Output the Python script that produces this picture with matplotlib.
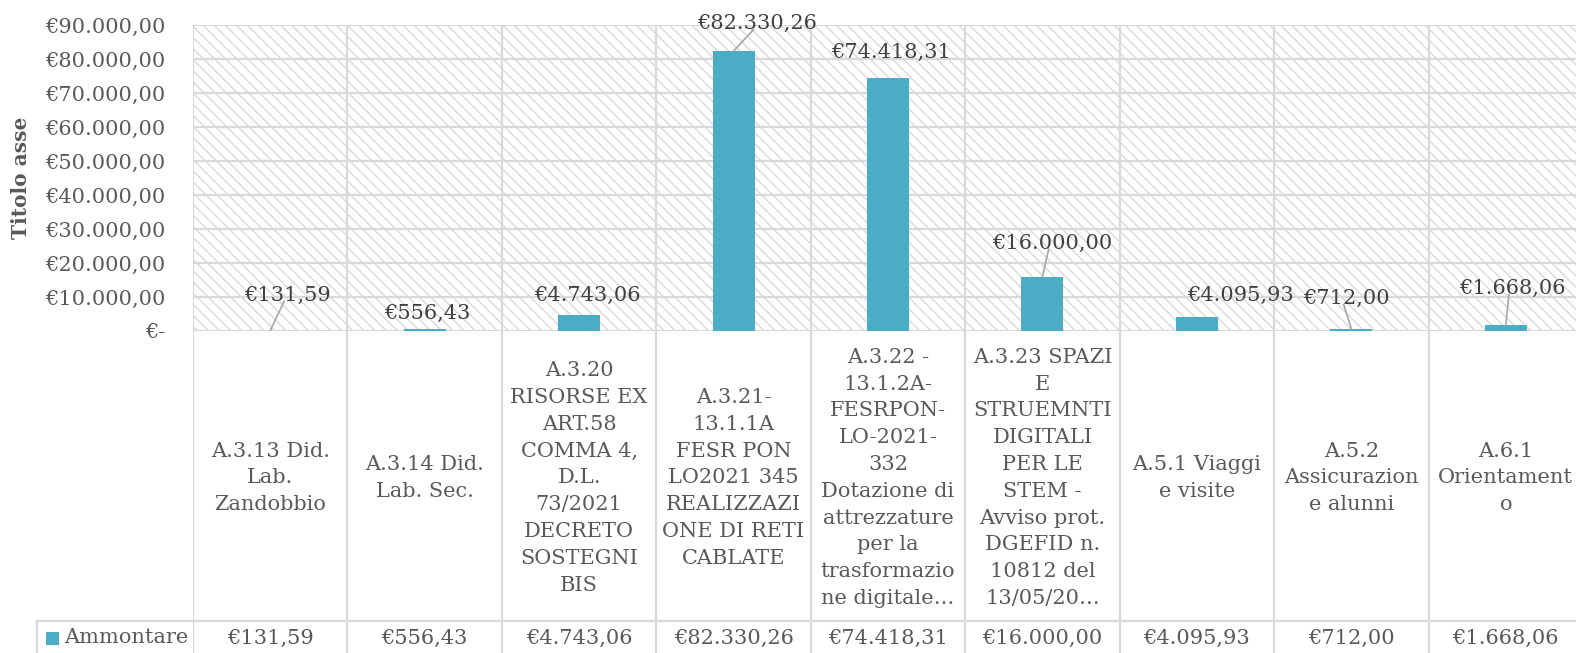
import matplotlib
matplotlib.use("Agg")
import matplotlib.pyplot as plt
from matplotlib.patches import Rectangle

# data
categories = [
    "A.3.13 Did.\nLab.\nZandobbio",
    "A.3.14 Did.\nLab. Sec.",
    "A.3.20\nRISORSE EX\nART.58\nCOMMA 4,\nD.L.\n73/2021\nDECRETO\nSOSTEGNI\nBIS",
    "A.3.21-\n13.1.1A\nFESR PON\nLO2021 345\nREALIZZAZI\nONE DI RETI\nCABLATE",
    "A.3.22 -\n13.1.2A-\nFESRPON-\nLO-2021-\n332\nDotazione di\nattrezzature\nper la\ntrasformazio\nne digitale\u2026",
    "A.3.23 SPAZI\nE\nSTRUEMNTI\nDIGITALI\nPER LE\nSTEM -\nAvviso prot.\nDGEFID n.\n10812 del\n13/05/20\u2026",
    "A.5.1 Viaggi\ne visite",
    "A.5.2\nAssicurazion\ne alunni",
    "A.6.1\nOrientament\no",
]
ammontare = [131.59, 556.43, 4743.06, 82330.26, 74418.31, 16000.00, 4095.93, 712.00, 1668.06]
series_name = "Ammontare"
yticks = [0, 10000, 20000, 30000, 40000, 50000, 60000, 70000, 80000, 90000]

# label placement (x offset from category centre, y position) and leader lines
lab_dx = [0.11, 0.015, 0.05, 0.15, 0.02, 0.06, 0.28, -0.03, 0.04]
lab_y = [10600, 5150, 10600, 90600, 81800, 25900, 10600, 9700, 12650]
leader = [True, False, False, True, False, True, False, True, True]

BAR = "#4bacc6"
GRID = "#d9d9d9"
TXT = "#595959"
FONT = "DejaVu Serif"
FS = 15


def euro(v):
    if v == 0:
        return "\u20ac-"
    s = f"{v:,.2f}"
    s = s.replace(",", "X").replace(".", ",").replace("X", ".")
    return "\u20ac" + s


plt.rcParams["font.family"] = FONT
plt.rcParams["hatch.linewidth"] = 1.0
plt.rcParams["hatch.color"] = GRID

W, H = 1576, 653
fig = plt.figure(figsize=(W / 100, H / 100), dpi=100)

x0, x1 = 193, 1583
ytop, ybot = 25, 331
ax = fig.add_axes([x0 / W, 1 - ybot / H, (x1 - x0) / W, (ybot - ytop) / H])
n = len(categories)
ax.set_xlim(-0.5, n - 0.5)
ax.set_ylim(0, 90000)

# hatched plot background
ax.add_patch(Rectangle((0, 0), 1, 1, transform=ax.transAxes, facecolor="white",
                       edgecolor=GRID, hatch="\\\\\\", linewidth=0, zorder=0))

for yv in yticks:
    ax.axhline(yv, color=GRID, lw=1.6, zorder=1)
for i in range(n + 1):
    ax.axvline(i - 0.5, color=GRID, lw=1.6, zorder=1)

ax.bar(range(n), ammontare, width=0.272, color=BAR, zorder=3)

for i, v in enumerate(ammontare):
    tx = i + lab_dx[i]
    ty = lab_y[i]
    ax.text(tx, ty, euro(v), ha="center", va="center", fontsize=FS, color="#404040", zorder=5)
    if leader[i]:
        ax.plot([i, tx - 0.02], [v, ty - 1900], color="#a6a6a6", lw=1.2, zorder=4)

for s in ax.spines.values():
    s.set_visible(False)
ax.set_xticks([])
ax.set_yticks(yticks)
ax.set_yticklabels([euro(t) for t in yticks], fontsize=FS, color=TXT)
ax.tick_params(axis="y", length=0, pad=20)
ax.set_ylabel("Titolo asse", fontsize=14.5, fontweight="bold", color=TXT)
ax.yaxis.set_label_coords(-(193 - 31) / (x1 - x0), 0.5)

# data table below the plot
tab = fig.add_axes([x0 / W, 0, (x1 - x0) / W, (H - ybot) / H])
tab.set_xlim(-0.5, n - 0.5)
tab.set_ylim(H, ybot)
tab.axis("off")
for i in range(n + 1):
    tab.plot([i - 0.5, i - 0.5], [ybot, H], color=GRID, lw=1.6)
cell = (x1 - x0) / n
left_cell = -0.5 - (x0 - 37) / cell
tab.plot([left_cell, n - 0.5], [621, 621], color=GRID, lw=1.6, clip_on=False)
tab.plot([left_cell, left_cell], [621, H], color=GRID, lw=1.6, clip_on=False)

for i, lab in enumerate(categories):
    tab.text(i, 478, lab, ha="center", va="center", fontsize=FS, color=TXT,
             linespacing=1.52)
    tab.text(i, 638, euro(ammontare[i]), ha="center", va="center", fontsize=FS, color=TXT)

tab.add_patch(Rectangle((-0.5 - (x0 - 46) / cell, 645), 13 / cell, -13, facecolor=BAR,
                        edgecolor="none", clip_on=False))
tab.text(-0.5 - (x0 - 64) / cell, 638, series_name, ha="left", va="center",
         fontsize=FS, color=TXT, clip_on=False)

fig.savefig("out.png", dpi=100)
